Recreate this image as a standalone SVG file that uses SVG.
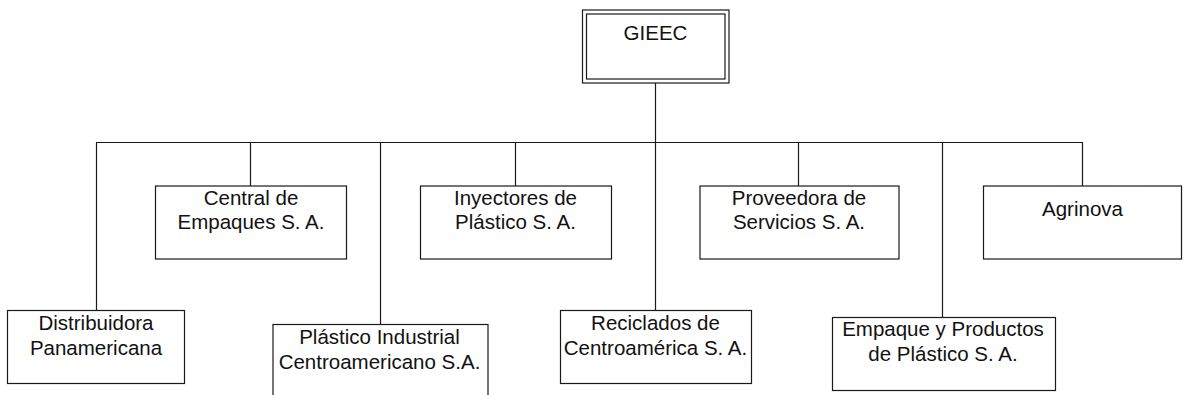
<svg xmlns="http://www.w3.org/2000/svg" width="1184" height="395" viewBox="0 0 1184 395">
  <style>
    .box { fill: #ffffff; stroke: #1a1a1a; stroke-width: 1.2; }
    .line { fill: none; stroke: #1a1a1a; stroke-width: 1.2; }
    .t { font-family: "Liberation Sans", Arial, sans-serif; font-size: 20.5px; fill: #111111; text-anchor: middle; }
  </style>
  <rect width="1184" height="395" fill="#ffffff"/>
  <g id="connectors">
    <line class="line" x1="655.5" y1="83" x2="655.5" y2="310.5"/>
    <line class="line" x1="96" y1="142.5" x2="1083" y2="142.5"/>
    <line class="line" x1="96.5" y1="142.5" x2="96.5" y2="310.5"/>
    <line class="line" x1="250.5" y1="142.5" x2="250.5" y2="186"/>
    <line class="line" x1="380.5" y1="142.5" x2="380.5" y2="324.5"/>
    <line class="line" x1="515.5" y1="142.5" x2="515.5" y2="186"/>
    <line class="line" x1="798.5" y1="142.5" x2="798.5" y2="186"/>
    <line class="line" x1="942.5" y1="142.5" x2="942.5" y2="317.5"/>
    <line class="line" x1="1082.5" y1="142.5" x2="1082.5" y2="186"/>
  </g>
  <g id="gieec">
    <rect class="box" x="582.5" y="10" width="146.5" height="73"/>
    <rect class="box" x="586.5" y="14" width="138.5" height="65"/>
    <text class="t" x="655.5" y="39.5">GIEEC</text>
  </g>
  <g id="distribuidora">
    <rect class="box" x="7.5" y="310.5" width="177" height="73"/>
    <text class="t" x="96" y="329.5">Distribuidora</text>
    <text class="t" x="96" y="354.5">Panamericana</text>
  </g>
  <g id="central">
    <rect class="box" x="155.5" y="186" width="191" height="73"/>
    <text class="t" x="251" y="204.5">Central de</text>
    <text class="t" x="251" y="229">Empaques S. A.</text>
  </g>
  <g id="plastico-industrial">
    <rect class="box" x="273" y="324.5" width="215" height="80"/>
    <text class="t" x="379.5" y="343.5">Plástico Industrial</text>
    <text class="t" x="379.5" y="368.5">Centroamericano S.A.</text>
  </g>
  <g id="inyectores">
    <rect class="box" x="420.5" y="186" width="191" height="73"/>
    <text class="t" x="515.5" y="204.5">Inyectores de</text>
    <text class="t" x="515.5" y="229">Plástico S. A.</text>
  </g>
  <g id="reciclados">
    <rect class="box" x="560.5" y="310.5" width="191" height="73"/>
    <text class="t" x="655.5" y="329.5">Reciclados de</text>
    <text class="t" x="655.5" y="354.5">Centroamérica S. A.</text>
  </g>
  <g id="proveedora">
    <rect class="box" x="700" y="186" width="199" height="73"/>
    <text class="t" x="799" y="204.5">Proveedora de</text>
    <text class="t" x="799" y="229">Servicios S. A.</text>
  </g>
  <g id="empaque">
    <rect class="box" x="832.5" y="317.5" width="223" height="73"/>
    <text class="t" x="943" y="336">Empaque y Productos</text>
    <text class="t" x="943" y="361">de Plástico S. A.</text>
  </g>
  <g id="agrinova">
    <rect class="box" x="983.5" y="186" width="198" height="73"/>
    <text class="t" x="1082.5" y="216">Agrinova</text>
  </g>
</svg>
